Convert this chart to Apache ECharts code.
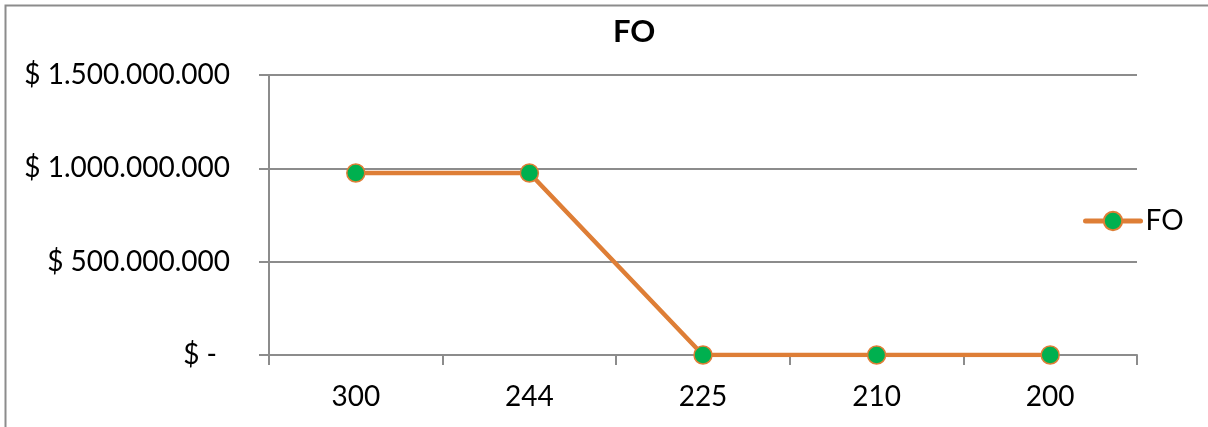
<!DOCTYPE html>
<html>
<head>
<meta charset="utf-8">
<script src="https://cdn.jsdelivr.net/npm/echarts@6/dist/echarts.min.js"></script>
<style>
  html, body { margin: 0; padding: 0; background: #fff; }
  #chart { width: 1208px; height: 427px; }
</style>
</head>
<body>
<div id="chart"></div>
<script>
// Quantities (x) and objective function value (y)
const categories = ['300', '244', '225', '210', '200'];
const foValues = [975000000, 975000000, 0, 0, 0];
const seriesName = 'FO';
const titleText = 'FO';

// Accounting style: "$ 1.500.000.000", zero shown as "$ -"
function money(v) {
  if (v === 0) return '{zero|$ -}';
  return '$ ' + String(Math.round(v)).replace(/\B(?=(\d{3})+(?!\d))/g, '.');
}

const FONT = 'Lato, "Open Sans", sans-serif';
const GRID_COLOR = '#8c8c8c';
const LINE_COLOR = '#DE7E36';
const MARKER_COLOR = '#00B04F';

const chart = echarts.init(document.getElementById('chart'), null, { renderer: 'canvas' });
chart.setOption({
  animation: false,
  backgroundColor: '#ffffff',
  graphic: [{
    type: 'rect',
    shape: { x: 5.5, y: 5.5, width: 1400, height: 600 },
    style: { fill: 'none', stroke: '#8c8c8c', lineWidth: 2 },
    silent: true
  }],
  title: {
    text: titleText,
    left: 608,
    top: 11,
    textStyle: { fontFamily: FONT, fontWeight: 'bold', fontSize: 31, color: '#000' }
  },
  legend: {
    data: [seriesName],
    left: 1078,
    top: 202,
    itemWidth: 55,
    itemHeight: 23,
    itemGap: 0,
    lineStyle: { width: 5, cap: 'round', color: LINE_COLOR },
    textStyle: { fontFamily: FONT, fontSize: 28, color: '#000' }
  },
  grid: { left: 269, right: 71, top: 75, bottom: 72, containLabel: false },
  xAxis: {
    type: 'category',
    data: categories,
    boundaryGap: true,
    axisLine: { lineStyle: { color: GRID_COLOR, width: 2 } },
    axisTick: { show: true, length: 10, inside: false, lineStyle: { color: GRID_COLOR, width: 2 } },
    axisLabel: { fontFamily: FONT, fontSize: 28, color: '#000', margin: 28 },
    splitLine: { show: false }
  },
  yAxis: {
    type: 'value',
    min: 0,
    max: 1500000000,
    interval: 500000000,
    axisLine: { show: true, lineStyle: { color: GRID_COLOR, width: 2 } },
    axisTick: { show: true, length: 10, lineStyle: { color: GRID_COLOR, width: 2 } },
    axisLabel: {
      fontFamily: FONT, fontSize: 28, color: '#000', margin: 39, formatter: money,
      rich: { zero: { fontFamily: FONT, fontSize: 28, color: '#000', padding: [0, 13, 0, 0] } }
    },
    splitLine: { show: true, lineStyle: { color: GRID_COLOR, width: 2 } }
  },
  series: [{
    name: seriesName,
    type: 'line',
    data: foValues,
    symbol: 'circle',
    symbolSize: 18,
    lineStyle: { color: LINE_COLOR, width: 4.5 },
    itemStyle: { color: MARKER_COLOR, borderColor: LINE_COLOR, borderWidth: 1.5 }
  }]
});
</script>
</body>
</html>
